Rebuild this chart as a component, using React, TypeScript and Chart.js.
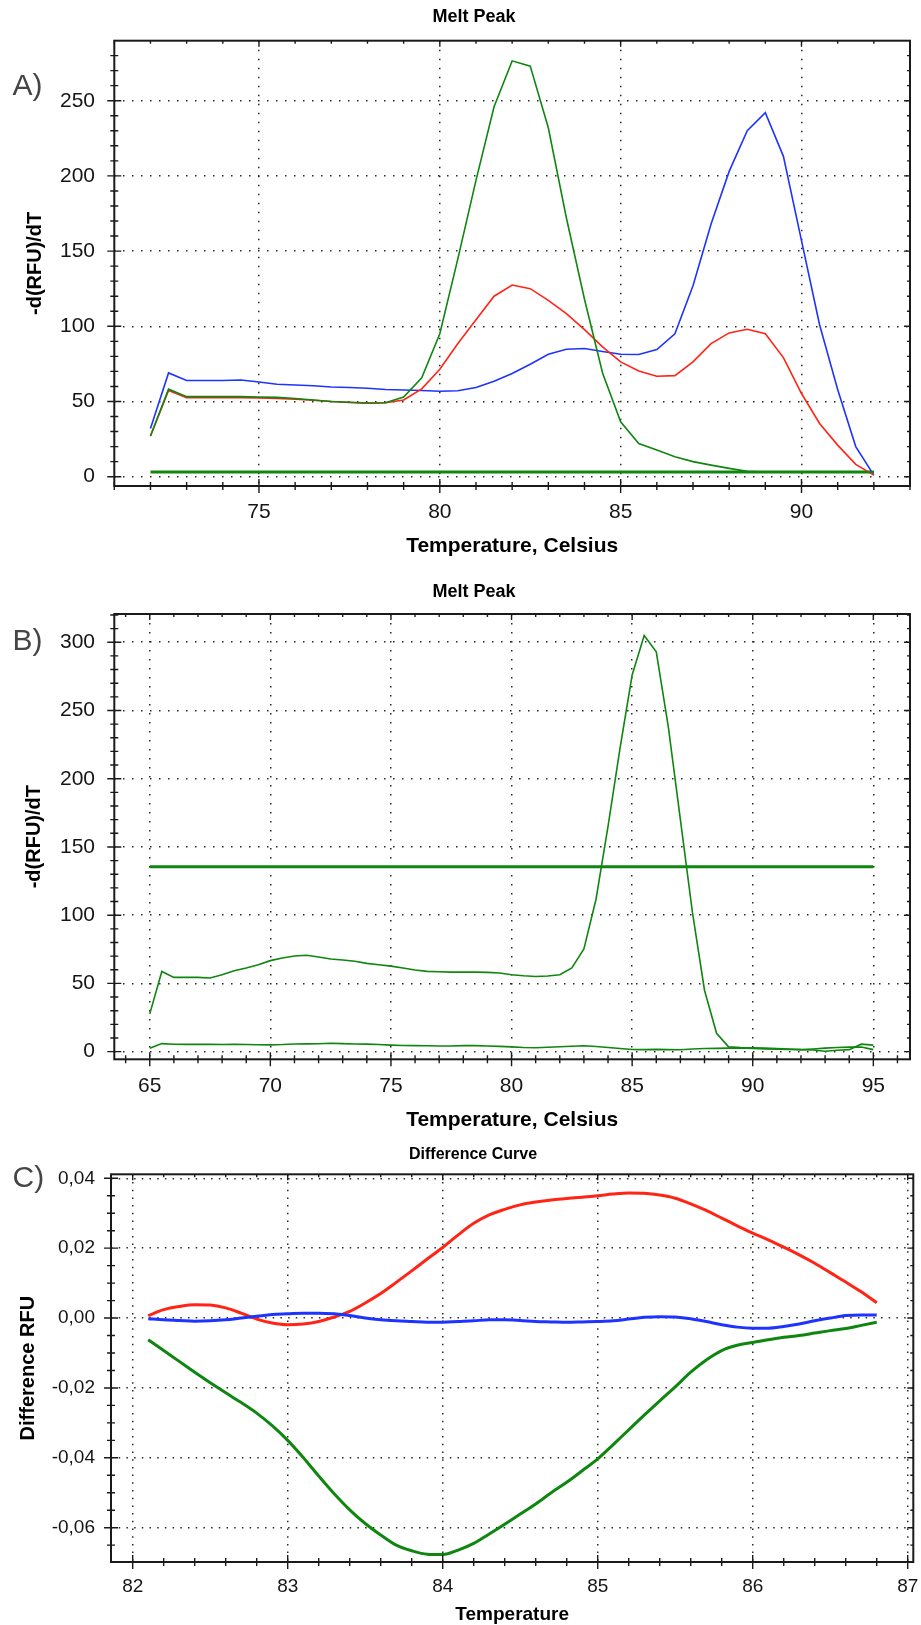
import React, { useEffect, useRef } from "react";
import { Chart, registerables } from "chart.js";

Chart.register(...registerables);

const FONT = "'Liberation Sans', Arial, Helvetica, sans-serif";
Chart.defaults.font.family = FONT;

const RED = "#ff2414";
const BLUE = "#1f33ff";
const GREEN = "#0f860f";

// ---------------- Panel A: Melt Peak ----------------
const tempA = [72, 72.5, 73, 73.5, 74, 74.5, 75, 75.5, 76, 76.5, 77, 77.5, 78, 78.5, 79, 79.5, 80, 80.5, 81, 81.5, 82, 82.5, 83, 83.5, 84, 84.5, 85, 85.5, 86, 86.5, 87, 87.5, 88, 88.5, 89, 89.5, 90, 90.5, 91, 91.5, 92];
const blueA = [32, 69, 64, 64, 64, 64.3, 63, 61.5, 61, 60.5, 59.6, 59.3, 58.8, 58, 57.6, 57.3, 56.8, 57.1, 59.3, 63.5, 68.6, 74.8, 81.4, 84.7, 85.2, 83.2, 81.4, 81.2, 84.5, 95, 127, 168, 203, 230, 242, 213, 157, 101, 58, 20, 1];
const redA = [27, 57.3, 52.5, 52.5, 52.5, 52.5, 52.4, 52, 51.5, 50.8, 50, 49.3, 48.8, 49.2, 51, 58.4, 71.4, 88.5, 104.4, 120, 127.4, 125, 117.2, 108.4, 97.8, 86.3, 76.3, 70.3, 66.8, 67.2, 76.3, 88.5, 95.6, 98, 95.1, 79.2, 55.3, 35.4, 21, 8.2, 1];
const greenA = [27, 58.2, 53.2, 53.2, 53.2, 53.2, 53, 52.7, 52, 51, 50, 49.5, 49, 49.2, 53, 65.7, 95, 145, 197, 246, 276.5, 273, 232, 172, 118, 69, 36.5, 22, 17.7, 13.3, 10, 7.7, 5.5, 3.5, 3, 3, 3, 3, 3, 3, 3];
const baseTempA = [72, 92];
const baseA = [3.1, 3.1];
const xTicksA = [75, 80, 85, 90];
const yTicksA = [0, 50, 100, 150, 200, 250];

// ---------------- Panel B: Melt Peak ----------------
const tempB = [65, 65.5, 66, 66.5, 67, 67.5, 68, 68.5, 69, 69.5, 70, 70.5, 71, 71.5, 72, 72.5, 73, 73.5, 74, 74.5, 75, 75.5, 76, 76.5, 77, 77.5, 78, 78.5, 79, 79.5, 80, 80.5, 81, 81.5, 82, 82.5, 83, 83.5, 84, 84.5, 85, 85.5, 86, 86.5, 87, 87.5, 88, 88.5, 89, 89.5, 90, 90.5, 91, 91.5, 92, 92.5, 93, 93.5, 94, 94.5, 95];
const peakB = [27.7, 58.8, 54.4, 54.4, 54.4, 54, 56.4, 59.3, 61.3, 63.7, 66.7, 68.6, 70.1, 70.6, 69.4, 67.9, 67.2, 66.2, 64.7, 63.7, 62.7, 61.3, 59.8, 58.8, 58.6, 58.3, 58.3, 58.3, 58.1, 57.6, 56.4, 55.6, 55.1, 55.4, 56.4, 61.3, 75.2, 111.5, 165, 222.6, 276, 305, 293, 238, 170, 102, 45, 13.5, 3.5, 3, 2.8, 2.6, 2.3, 2, 1.5, 1.2, 0.3, 1, 1.5, 5.5, 4.8];
const lowB = [2.5, 5.9, 5.4, 5.3, 5.3, 5.3, 5.2, 5.3, 5.2, 5.1, 5, 5.2, 5.6, 5.7, 5.8, 6.2, 5.9, 5.6, 5.5, 5.2, 4.8, 4.5, 4.4, 4.3, 4.1, 4.2, 4.4, 4.4, 4.2, 3.9, 3.5, 3, 2.9, 3.2, 3.6, 4, 4.3, 3.8, 3, 2.3, 1.6, 1.5, 1.7, 1.5, 1.4, 1.9, 2.3, 2.4, 2.6, 2.8, 2.4, 2, 1.8, 1.6, 1.5, 2, 2.6, 3, 3.3, 3.4, 1.5];
const baseTempB = [65, 95];
const baseB = [135.5, 135.5];
const xTicksB = [65, 70, 75, 80, 85, 90, 95];
const yTicksB = [0, 50, 100, 150, 200, 250, 300];

// ---------------- Panel C: Difference Curve ----------------
const tempC = [82.1, 82.2, 82.3, 82.4, 82.5, 82.6, 82.7, 82.8, 82.9, 83, 83.1, 83.2, 83.3, 83.4, 83.5, 83.6, 83.7, 83.8, 83.9, 84, 84.1, 84.2, 84.3, 84.4, 84.5, 84.6, 84.7, 84.8, 84.9, 85, 85.1, 85.2, 85.3, 85.4, 85.5, 85.6, 85.7, 85.8, 85.9, 86, 86.1, 86.2, 86.3, 86.4, 86.5, 86.6, 86.7, 86.8];
const redC = [0.0007, 0.0024, 0.0033, 0.0038, 0.0037, 0.0029, 0.0014, -0.0003, -0.0014, -0.0019, -0.0017, -0.001, 0.0003, 0.0019, 0.0043, 0.007, 0.0102, 0.0135, 0.0169, 0.0202, 0.0238, 0.0271, 0.0295, 0.0311, 0.0324, 0.0332, 0.0338, 0.0342, 0.0346, 0.035, 0.0355, 0.0358, 0.0357, 0.0352, 0.0343, 0.0327, 0.0308, 0.0286, 0.0264, 0.0243, 0.0224, 0.0203, 0.0181, 0.0157, 0.013, 0.0103, 0.0075, 0.0044];
const blueC = [-0.0002, -0.0005, -0.0007, -0.0009, -0.0008, -0.0005, 0, 0.0005, 0.001, 0.0012, 0.0014, 0.0014, 0.0012, 0.0007, 0, -0.0005, -0.0008, -0.001, -0.0012, -0.0012, -0.001, -0.0008, -0.0005, -0.0005, -0.0007, -0.001, -0.0011, -0.0012, -0.0011, -0.001, -0.0008, -0.0003, 0.0002, 0.0004, 0.0003, -0.0002, -0.001, -0.0019, -0.0026, -0.0029, -0.0029, -0.0024, -0.0017, -0.0008, 0, 0.0007, 0.0009, 0.0009];
const greenC = [-0.0062, -0.0093, -0.0124, -0.0155, -0.0185, -0.0214, -0.0242, -0.0272, -0.0308, -0.035, -0.0399, -0.0452, -0.0503, -0.0549, -0.0588, -0.0621, -0.065, -0.0666, -0.0676, -0.0677, -0.0664, -0.0645, -0.0618, -0.059, -0.0561, -0.0532, -0.05, -0.047, -0.0437, -0.0403, -0.0362, -0.032, -0.0278, -0.0237, -0.0197, -0.0155, -0.012, -0.0093, -0.0078, -0.007, -0.0062, -0.0055, -0.005, -0.0043, -0.0036, -0.003, -0.0021, -0.0012];
const xTicksC = [82, 83, 84, 85, 86, 87];
const yTicksC = [-0.06, -0.04, -0.02, 0, 0.02, 0.04];

const pts = (xs: number[], ys: number[]) => xs.map((x, i) => ({ x, y: ys[i] }));

const frameTicksPlugin = {
  id: "frameTicks",
  afterDraw(chart: any, _args: any, opts: any) {
    const { ctx, chartArea: a } = chart;
    const xs = chart.scales.x;
    const ys = chart.scales.y;
    const isMajor = (v: number, majors: number[], step: number) =>
      majors.some((m) => Math.abs(m - v) < step * 0.01);
    ctx.save();
    ctx.strokeStyle = "#1a1a1a";
    ctx.lineWidth = 1.4;
    ctx.beginPath();
    const nx0 = Math.ceil(xs.min / opts.xMinor - 1e-6);
    const nx1 = Math.floor(xs.max / opts.xMinor + 1e-6);
    for (let n = nx0; n <= nx1; n++) {
      const v = n * opts.xMinor;
      const len = isMajor(v, opts.xMajor, opts.xMinor) ? 7 : 4;
      const p = xs.getPixelForValue(v);
      ctx.moveTo(p, a.bottom - len);
      ctx.lineTo(p, a.bottom + len);
      ctx.moveTo(p, a.top);
      ctx.lineTo(p, a.top + len - 1);
    }
    const ny0 = Math.ceil(ys.min / opts.yMinor - 1e-6);
    const ny1 = Math.floor(ys.max / opts.yMinor + 1e-6);
    for (let n = ny0; n <= ny1; n++) {
      const v = n * opts.yMinor;
      const len = isMajor(v, opts.yMajor, opts.yMinor) ? 7 : 4;
      const p = ys.getPixelForValue(v);
      ctx.moveTo(a.left - len, p);
      ctx.lineTo(a.left + len, p);
      ctx.moveTo(a.right, p);
      ctx.lineTo(a.right - len + 1, p);
    }
    ctx.stroke();
    ctx.lineWidth = 2;
    ctx.strokeRect(a.left, a.top, a.right - a.left, a.bottom - a.top);
    ctx.fillStyle = "#454545";
    ctx.font = `30px ${FONT}`;
    ctx.textAlign = "left";
    ctx.textBaseline = "alphabetic";
    ctx.fillText(opts.letter, 12.5, opts.letterY);
    ctx.restore();
  },
};

interface Spec {
  height: number;
  title: string;
  titleSize: number;
  titlePad: { top: number; bottom: number };
  padL: number;
  padR: number;
  yWidth: number;
  xHeight: number;
  xMin: number;
  xMax: number;
  yMin: number;
  yMax: number;
  xTicks: number[];
  yTicks: number[];
  xMinor: number;
  yMinor: number;
  xLabel: string;
  yLabel: string;
  tickSize: number;
  tickPadX: number;
  tickPadY: number;
  xTitleSize: number;
  xTitlePadBottom: number;
  yTitleSize: number;
  yTitlePadTop: number;
  letter: string;
  letterY: number;
  gridDash: number[];
  datasets: any[];
  fmt?: (v: number) => string;
}

function makeConfig(s: Spec): any {
  return {
    type: "line",
    data: { datasets: s.datasets },
    plugins: [frameTicksPlugin],
    options: {
      animation: false,
      responsive: false,
      devicePixelRatio: 1,
      events: [],
      layout: { padding: { left: s.padL, right: s.padR, top: 0, bottom: 0 } },
      elements: { point: { radius: 0 }, line: { borderWidth: 1.6, tension: 0 } },
      plugins: {
        legend: { display: false },
        tooltip: { enabled: false },
        title: {
          display: true,
          text: s.title,
          color: "#000",
          font: { family: FONT, size: s.titleSize, weight: "bold", lineHeight: 1 },
          padding: s.titlePad,
        },
        frameTicks: {
          xMinor: s.xMinor,
          yMinor: s.yMinor,
          xMajor: s.xTicks,
          yMajor: s.yTicks,
          letter: s.letter,
          letterY: s.letterY,
        },
      },
      scales: {
        x: {
          type: "linear",
          min: s.xMin,
          max: s.xMax,
          afterBuildTicks: (sc: any) => {
            sc.ticks = s.xTicks.map((v) => ({ value: v }));
          },
          afterFit: (sc: any) => {
            sc.height = s.xHeight;
            sc.paddingLeft = 0;
            sc.paddingRight = 0;
            sc.paddingTop = 0;
            sc.paddingBottom = 0;
          },
          ticks: {
            autoSkip: false,
            maxRotation: 0,
            padding: s.tickPadX,
            color: "#151515",
            font: { family: FONT, size: s.tickSize, lineHeight: 1 },
          },
          grid: { drawTicks: false, color: "#2a2a2a", lineWidth: 1.5 },
          border: { display: false, dash: s.gridDash },
          title: {
            display: true,
            text: s.xLabel,
            color: "#000",
            font: { family: FONT, size: s.xTitleSize, weight: "bold", lineHeight: 1 },
            padding: { top: 0, bottom: s.xTitlePadBottom },
          },
        },
        y: {
          type: "linear",
          min: s.yMin,
          max: s.yMax,
          afterBuildTicks: (sc: any) => {
            sc.ticks = s.yTicks.map((v) => ({ value: v }));
          },
          afterFit: (sc: any) => {
            sc.width = s.yWidth;
            sc.paddingLeft = 0;
            sc.paddingRight = 0;
            sc.paddingTop = 0;
            sc.paddingBottom = 0;
          },
          ticks: {
            autoSkip: false,
            padding: s.tickPadY,
            color: "#151515",
            font: { family: FONT, size: s.tickSize, lineHeight: 1 },
            callback: (v: any) => (s.fmt ? s.fmt(Number(v)) : String(v)),
          },
          grid: { drawTicks: false, color: "#2a2a2a", lineWidth: 1.5 },
          border: { display: false, dash: s.gridDash },
          title: {
            display: true,
            text: s.yLabel,
            color: "#000",
            font: { family: FONT, size: s.yTitleSize, weight: "bold", lineHeight: 1 },
            padding: { top: s.yTitlePadTop, bottom: 0 },
          },
        },
      },
    },
  };
}

const specA: Spec = {
  height: 570,
  title: "Melt Peak",
  titleSize: 18,
  titlePad: { top: 8.3, bottom: 14.4 },
  padL: 38,
  padR: 11,
  yWidth: 76.3,
  xHeight: 84,
  xMin: 71,
  xMax: 93,
  yMin: -6.2,
  yMax: 289.9,
  xTicks: xTicksA,
  yTicks: yTicksA,
  xMinor: 1,
  yMinor: 10,
  xLabel: "Temperature, Celsius",
  yLabel: "-d(RFU)/dT",
  tickSize: 21,
  tickPadX: 16.2,
  tickPadY: 19.3,
  xTitleSize: 21,
  xTitlePadBottom: 13.5,
  yTitleSize: 20,
  yTitlePadTop: -13,
  letter: "A)",
  letterY: 95,
  gridDash: [1.5, 7.5],
  datasets: [
    { data: pts(tempA, greenA), borderColor: GREEN },
    { data: pts(tempA, redA), borderColor: RED },
    { data: pts(tempA, blueA), borderColor: BLUE },
    { data: pts(baseTempA, baseA), borderColor: GREEN, borderWidth: 3.2 },
  ],
};

const specB: Spec = {
  height: 565,
  title: "Melt Peak",
  titleSize: 18,
  titlePad: { top: 12.7, bottom: 13.3 },
  padL: 38,
  padR: 11,
  yWidth: 76.3,
  xHeight: 75.7,
  xMin: 63.53,
  xMax: 96.52,
  yMin: -5.6,
  yMax: 320.7,
  xTicks: xTicksB,
  yTicks: yTicksB,
  xMinor: 1,
  yMinor: 10,
  xLabel: "Temperature, Celsius",
  yLabel: "-d(RFU)/dT",
  tickSize: 21,
  tickPadX: 16.9,
  tickPadY: 19.3,
  xTitleSize: 21,
  xTitlePadBottom: 4.5,
  yTitleSize: 20,
  yTitlePadTop: -14,
  letter: "B)",
  letterY: 80,
  gridDash: [1.5, 7.5],
  datasets: [
    { data: pts(baseTempB, baseB), borderColor: GREEN, borderWidth: 3.2 },
    { data: pts(tempB, peakB), borderColor: GREEN },
    { data: pts(tempB, lowB), borderColor: GREEN },
  ],
};

const specC: Spec = {
  height: 490,
  title: "Difference Curve",
  titleSize: 16,
  titlePad: { top: 12, bottom: 11.3 },
  padL: 32.7,
  padR: 7.7,
  yWidth: 78.3,
  xHeight: 63,
  xMin: 81.86,
  xMax: 87.036,
  yMin: -0.06982,
  yMax: 0.04114,
  xTicks: xTicksC,
  yTicks: yTicksC,
  xMinor: 0.2,
  yMinor: 0.005,
  xLabel: "Temperature",
  yLabel: "Difference RFU",
  tickSize: 19,
  tickPadX: 15.2,
  tickPadY: 16,
  xTitleSize: 19,
  xTitlePadBottom: 0.5,
  yTitleSize: 20,
  yTitlePadTop: -14.4,
  letter: "C)",
  letterY: 52,
  gridDash: [1.5, 6.2],
  fmt: (v) => v.toFixed(2).replace(".", ","),
  datasets: [
    { data: pts(tempC, blueC), borderColor: BLUE, borderWidth: 3, cubicInterpolationMode: "monotone" },
    { data: pts(tempC, redC), borderColor: RED, borderWidth: 3, cubicInterpolationMode: "monotone" },
    { data: pts(tempC, greenC), borderColor: GREEN, borderWidth: 3, cubicInterpolationMode: "monotone" },
  ],
};

function Panel({ spec, top }: { spec: Spec; top: number }) {
  const ref = useRef<HTMLCanvasElement | null>(null);
  useEffect(() => {
    if (!ref.current) return;
    const chart = new Chart(ref.current, makeConfig(spec));
    return () => chart.destroy();
  }, [spec]);
  return (
    <canvas
      ref={ref}
      width={921}
      height={spec.height}
      style={{ position: "absolute", left: 0, top, width: 921, height: spec.height, display: "block" }}
    />
  );
}

export default function App() {
  return (
    <div
      style={{
        position: "absolute",
        left: 0,
        top: 0,
        width: 921,
        height: 1625,
        background: "#fff",
        overflow: "hidden",
      }}
    >
      <Panel spec={specA} top={0} />
      <Panel spec={specB} top={570} />
      <Panel spec={specC} top={1135} />
    </div>
  );
}
